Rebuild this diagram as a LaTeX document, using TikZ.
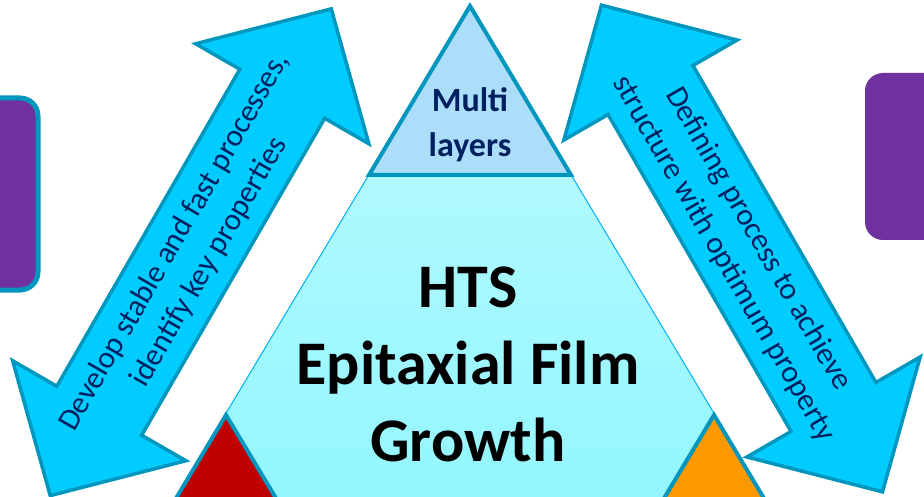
\documentclass[tikz,border=0pt]{standalone}
\usepackage{fontspec}
\setmainfont{Carlito}
\usetikzlibrary{positioning}
\definecolor{htsPurple}{RGB}{112, 48, 160}
\definecolor{htsEdge}{RGB}{0, 150, 190}
\definecolor{htsArrow}{RGB}{0, 204, 255}
\definecolor{htsNavy}{RGB}{0, 32, 96}
\definecolor{htsTop}{RGB}{172, 222, 249}
\definecolor{htsLine}{RGB}{0, 176, 240}
\definecolor{htsRed}{RGB}{192, 0, 0}
\definecolor{htsOrange}{RGB}{255, 153, 0}

\tikzset{
  dblarrow/.pic={
    \draw[draw=htsEdge, fill=htsArrow, line width=3.5pt]
      (-281,0) -- (-183,-100) -- (-183,-49) -- (183,-49) -- (183,-100)
      -- (281,0) -- (183,100) -- (183,49) -- (-183,49) -- (-183,100) -- cycle;
  }
}

\begin{document}
\begin{tikzpicture}[x=1pt, y=-1pt,
    corner/.style={draw=htsEdge, line width=4pt},
    box/.style={fill=htsPurple, rounded corners=18pt},
    arrtext/.style={align=center, text=htsNavy,
                    font=\fontsize{31}{40}\selectfont}]
  \useasboundingbox (0,0) rectangle (924,497);
  \clip (0,0) rectangle (924,497);

  % purple boxes at the sides
  \draw[box, draw=htsEdge, line width=5pt] (-60,98) rectangle (38,290);
  \fill[box] (865,73) rectangle (990,240);

  % pyramid
  \shade[top color={rgb,255:red,190;green,251;blue,255},
         bottom color={rgb,255:red,145;green,246;blue,255}]
    (470,6) -- (162,520) -- (778,520) -- cycle;
  \draw[htsLine, line width=1pt] (162,520) -- (470,6) -- (778,520);
  \draw[corner, fill=htsTop] (470,6) -- (369,175) -- (571,175) -- cycle;
  \draw[corner, fill=htsRed] (226,415) -- (157,530) -- (295,530) -- cycle;
  \draw[corner, fill=htsOrange] (714,415) -- (645,530) -- (783,530) -- cycle;

  \node[font=\bfseries\fontsize{34}{45}\selectfont, text=htsNavy, align=center]
    (multi) at (470,125) {Multi\\layers};
  \node[font=\bfseries\fontsize{62}{77}\selectfont, align=center]
    (hts) at (468,364) {HTS\\Epitaxial Film\\Growth};

  % double arrows
  \pic[rotate=60] at (190.75,252.25) {dblarrow};
  \pic[rotate=-60] at (742,248.5) {dblarrow};
  \node[arrtext, rotate=60] (develop) at (192,252)
    {Develop stable and fast processes,\\identify key properties};
  \node[arrtext, rotate=-60] (defining) at (741,249)
    {Defining process to achieve\\structure with optimum property};
\end{tikzpicture}
\end{document}
